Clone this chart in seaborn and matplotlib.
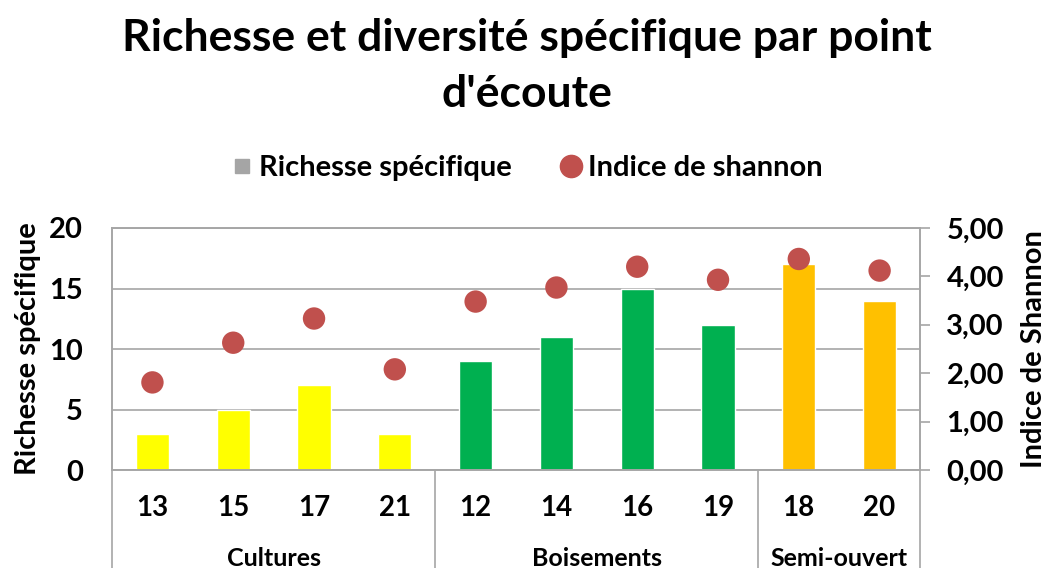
import matplotlib
matplotlib.use("Agg")
import matplotlib.pyplot as plt
import matplotlib.transforms as mtransforms
from matplotlib.lines import Line2D
import numpy as np
import pandas as pd
import seaborn as sns

# données
points = ['13', '15', '17', '21', '12', '14', '16', '19', '18', '20']
milieux = ['Cultures'] * 4 + ['Boisements'] * 4 + ['Semi-ouvert'] * 2
richesse = [3, 5, 7, 3, 9, 11, 15, 12, 17, 14]
shannon = [1.81, 2.63, 3.13, 2.08, 3.48, 3.77, 4.20, 3.93, 4.36, 4.12]
groupes = ['Cultures', 'Boisements', 'Semi-ouvert']
couleurs = {'Cultures': '#FFFF00', 'Boisements': '#00B050', 'Semi-ouvert': '#FFC000'}

df = pd.DataFrame({'point': points, 'milieu': milieux,
                   'richesse': richesse, 'shannon': shannon})
df['pos'] = np.arange(len(df))

sns.set_style('white')
plt.rcParams['font.family'] = ['Lato', 'DejaVu Sans']
plt.rcParams['font.weight'] = 'bold'
plt.rcParams['axes.labelweight'] = 'bold'
plt.rcParams['text.color'] = 'black'
plt.rcParams['axes.labelcolor'] = 'black'
plt.rcParams['xtick.labelcolor'] = 'black'
plt.rcParams['ytick.labelcolor'] = 'black'
gris = '#A6A6A6'

fig = plt.figure(figsize=(10.53, 5.68), dpi=100)
ax = fig.add_axes([0.1064, 0.1725, 0.7673, 0.4261])

# barres : richesse spécifique
sns.barplot(data=df, x='point', y='richesse', hue='milieu', palette=couleurs,
            order=points, dodge=False, width=0.41, legend=False, ax=ax,
            saturation=1)
ax.set_ylim(0, 20)
ax.set_yticks([0, 5, 10, 15, 20])
ax.set_xlim(-0.5, len(points) - 0.5)
ax.yaxis.grid(True, color=gris, linewidth=1.2)
ax.set_axisbelow(True)
for s in ax.spines.values():
    s.set_color(gris)
    s.set_linewidth(1.2)
ax.tick_params(axis='y', length=0, labelsize=21, pad=21)
ax.tick_params(axis='x', which='both', length=5, color=gris, labelsize=20, pad=13)
ax.set_xticks(np.arange(-0.5, len(points), 1), minor=True)
ax.set_xlabel('')
ax.set_ylabel('Richesse spécifique', fontsize=21, labelpad=6)

# points : indice de Shannon
ax2 = ax.twinx()
sns.scatterplot(data=df, x='pos', y='shannon', color='#C0504D', s=260,
                edgecolor='none', ax=ax2, zorder=5)
ax2.set_ylim(0, 5)
ax2.set_yticks([0, 1, 2, 3, 4, 5])
ax2.set_yticklabels([f'{v:.2f}'.replace('.', ',') for v in range(6)])
ax2.tick_params(axis='y', length=7, color=gris, width=1.2, labelsize=21, pad=12)
ax2.set_ylabel('Indice de Shannon', fontsize=21, labelpad=12)
for s in ax2.spines.values():
    s.set_color(gris)
    s.set_linewidth(1.2)
ax2.set_xlim(-0.5, len(points) - 0.5)

# séparateurs et étiquettes des milieux
trans = mtransforms.blended_transform_factory(ax.transData, ax.transAxes)
bornes = [-0.5, 3.5, 7.5, 9.5]
for b in bornes:
    ax.plot([b, b], [0, -0.41], transform=trans, color=gris, lw=1.2, clip_on=False)
for g in groupes:
    idx = df.index[df['milieu'] == g]
    ax.text(idx.to_numpy().mean(), -0.365, g, transform=trans, ha='center',
            va='center', fontsize=18)

# légende
handles = [Line2D([], [], marker='s', linestyle='none', color='#A5A5A5', markersize=10),
           Line2D([], [], marker='o', linestyle='none', color='#C0504D', markersize=16)]
fig.legend(handles, ['Richesse spécifique', 'Indice de shannon'], loc='center',
           bbox_to_anchor=(0.5, 0.704), ncol=2, frameon=False, fontsize=21,
           handletextpad=0.2, columnspacing=1.6, handlelength=0.8)

fig.text(0.5, 0.910, 'Richesse et diversité spécifique par point', ha='center',
         va='baseline', fontsize=32)
fig.text(0.5, 0.812, "d'écoute", ha='center', va='baseline', fontsize=32)

fig.savefig('out.png', dpi=100)
